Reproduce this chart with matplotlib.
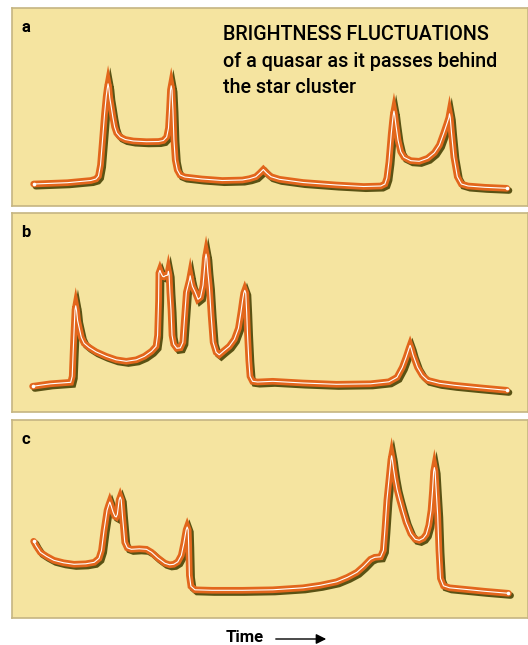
import matplotlib
matplotlib.use("Agg")
import matplotlib.pyplot as plt
import matplotlib.transforms as mtransforms
import matplotlib.patches as mpatches

# ---- data (time in arbitrary units, brightness in arbitrary units) ----
time_a = [21.3, 54.7, 78, 83, 85.5, 87.5, 89.5, 91.5, 93.2, 94.28, 95, 95.72, 96.7, 98, 99.7,
          101.5, 103.5, 107, 112, 120, 133, 145, 149.7, 153, 154.8, 155.9, 156.78, 157.5,
          158.22, 159.2, 160.2, 161.5, 163.5, 166.3, 171, 188, 208, 228, 235, 241.3, 245.3,
          248.7, 252, 256.3, 264.7, 288, 321, 348, 365, 369, 371, 373, 375.3, 376.5, 377.28,
          378, 378.72, 379.8, 382, 384.7, 388, 394.7, 403, 411.3, 418, 423, 427.3, 430.3,
          432.28, 433, 433.72, 434.9, 437.3, 440.7, 444.7, 451.3, 468, 489.7]
bright_a = [22, 23.3, 25.5, 27, 30, 41, 66, 92, 110, 118.2, 122.2, 118.2, 108, 100, 89,
            79, 73, 69, 66.5, 65, 64.3, 64.5, 65.5, 69, 78, 98, 116.2, 120.2,
            116.2, 96, 66, 46, 36, 31, 29, 27, 25.5, 26, 27.3, 29.3, 33,
            36.5, 33, 29.3, 26.7, 23.5, 21, 19.5, 20, 22, 28, 44, 72, 84, 90.9,
            94.9, 90.9, 82, 66, 54.3, 48.7, 45.3, 44.7, 47.7, 53.3, 61, 73, 82,
            88.2, 92.2, 88.2, 74, 49, 29.3, 22, 20, 18.7, 17.7]

time_b = [20.3, 38, 58, 59.5, 60.5, 61.5, 62.28, 63, 63.72, 64.8, 66.3, 68.5, 71.3, 76, 83,
          93, 103, 113, 123, 131, 138, 142.5, 144, 145, 145.3, 146.3, 147.3, 149, 150.3, 151.5,
          153.98, 154.7, 155.42, 156.2, 157.3, 158.3, 160, 163, 166.5, 169, 170.5, 172.5,
          175.58, 176.3, 177.02, 178.5, 181.3, 184, 186.5, 189, 190.3, 191.28, 192, 192.72,
          193.8, 195.3, 197, 199, 202, 205, 209, 215, 220, 224, 226.5, 228.3, 229.3, 230.3,
          231.3, 232.2, 233, 234.3, 235.5, 238, 243, 258, 288, 321, 354.7, 373, 381, 386.3,
          390, 393, 394, 395, 397, 401.3, 406, 411.3, 423, 438, 463, 489.7]
bright_b = [26, 28.5, 30, 36, 62, 85, 102.5, 106.5, 102.5, 92, 85, 75, 69, 65, 60.5,
            56, 52.5, 51, 52.5, 56, 61, 66, 77, 112, 139.2, 142, 139.2, 136, 135.5, 136.5,
            137.2, 141, 137.2, 120, 102, 77, 68, 64, 64.5, 70, 92, 120,
            132.5, 136.5, 132.5, 126, 120, 113, 115, 127, 142, 154.2, 158.2, 154.2,
            140, 125, 97, 70, 60, 57.5, 61, 66, 73, 84, 100, 113, 119.2, 122,
            119.2, 100, 79, 52, 36, 31, 30.3, 31, 29.3, 28, 28.5, 30.5, 35, 45,
            55, 64.2, 67, 64.2, 57, 45, 37, 32, 29, 27, 24.5, 22]

time_c = [21.3, 24, 28, 34, 41.3, 51, 61.3, 73, 81.3, 86, 88.5, 91, 94, 95.7, 96.7, 97.7, 100,
          101.8, 103, 104.2, 106, 107, 108, 109.2, 110.5, 111.5, 114, 118, 126, 133, 138, 144,
          151.3, 156, 160, 164, 167.5, 170, 171.5, 172.3, 173.3, 174.3, 174.8, 175.5, 177, 181,
          198, 228, 258, 288, 305, 321.3, 332, 341.3, 348, 354.7, 359, 364.7, 367.5, 369, 371,
          373.2, 374.98, 375.7, 376.42, 377.5, 379, 381, 383.5, 386.5, 390, 394.7, 399, 403,
          407, 410, 412.5, 414.7, 416.2, 417.28, 418, 418.72, 419.8, 421.3, 422.5, 424, 427,
          433, 448, 468, 491.3]
bright_c = [77, 72, 66, 62, 58, 55.5, 54, 54.5, 56, 60, 68, 88, 108, 113.5, 116.3, 113.5, 106,
            102, 101.3, 104, 118.5, 121.3, 118.5, 103, 88, 76, 70.5, 69, 69.5, 69, 66, 60.5,
            55, 53.5, 54, 56.5, 63, 75, 84, 88.5, 91.3, 88.5, 73, 43, 32, 28.5,
            28, 28, 28.5, 30.5, 33, 36.5, 41, 46, 52, 59, 61, 61.5, 68, 88, 118,
            140, 158.5, 162.5, 158.5, 150, 140, 129, 119, 108, 96, 84.5, 79, 78,
            80, 84, 93, 108, 128, 146.7, 150.7, 146.7, 128, 103, 68, 40, 32.5,
            30.5, 29, 27, 25]

panel_labels = ["a", "b", "c"]
title_lines = ["BRIGHTNESS FLUCTUATIONS", "of a quasar as it passes behind", "the star cluster"]
x_label = "Time"
time_range = (-0.4, 510.2)

series = [(time_a, bright_a), (time_b, bright_b), (time_c, bright_c)]

# ---- style ----
W, H = 528, 645
DPI = 100
BG = "#f5e4a0"
BORDER = "#c5b582"
ORANGE = "#e2661c"
SHADOW = "#5a5214"
LW = 4.8

fig = plt.figure(figsize=(W / DPI, H / DPI), dpi=DPI)
fig.patch.set_facecolor("white")

panels_px = [(8.3, 206.0), (213.3, 412.3), (420.0, 618.3)]
left_px, right_px = 11.7, 527.5

for (top, bot), (t, b), lab in zip(panels_px, series, panel_labels):
    ax = fig.add_axes([left_px / W, 1 - bot / H, (right_px - left_px) / W, (bot - top) / H])
    ax.set_facecolor(BG)
    ax.set_xlim(*time_range)
    ax.set_ylim(0, bot - top)
    ax.set_xticks([])
    ax.set_yticks([])
    for s in ax.spines.values():
        s.set_color(BORDER)
        s.set_linewidth(1.2)
    shadow_tr = mtransforms.offset_copy(ax.transData, fig=fig, x=2.2, y=-2.2, units="dots")
    ax.plot(t, b, color=SHADOW, lw=LW, solid_joinstyle="miter", solid_capstyle="round",
            transform=shadow_tr)
    ax.plot(t, b, color=ORANGE, lw=LW, solid_joinstyle="miter", solid_capstyle="round")
    ax.plot(t, b, color="white", lw=0.8, solid_joinstyle="round", solid_capstyle="round")
    ax.plot([t[0], t[-1]], [b[0], b[-1]], "o", color="white", ms=2.6, mec="none")
    ax.text(9.5 / (right_px - left_px), 1 - 19 / (bot - top), lab, transform=ax.transAxes,
            fontsize=12, fontweight="bold", family="Roboto", va="center", ha="left")

# title text
for i, line in enumerate(title_lines):
    fig.text(223 / W, 1 - (40.5 + 26.2 * i) / H, line, fontsize=14.2, family="Roboto",
             fontweight="medium", va="baseline", ha="left")

# x label with arrow
fig.text(245 / W, 1 - 638 / H, x_label, fontsize=12, fontweight="bold", family="Roboto",
         va="center", ha="center")
fig.patches.append(mpatches.FancyArrowPatch(
    (273 / W, 1 - 639 / H), (329 / W, 1 - 639 / H), transform=fig.transFigure,
    arrowstyle="-|>,head_length=6,head_width=3", color="black", lw=1.0, mutation_scale=1))

fig.savefig("out.png", dpi=DPI)
